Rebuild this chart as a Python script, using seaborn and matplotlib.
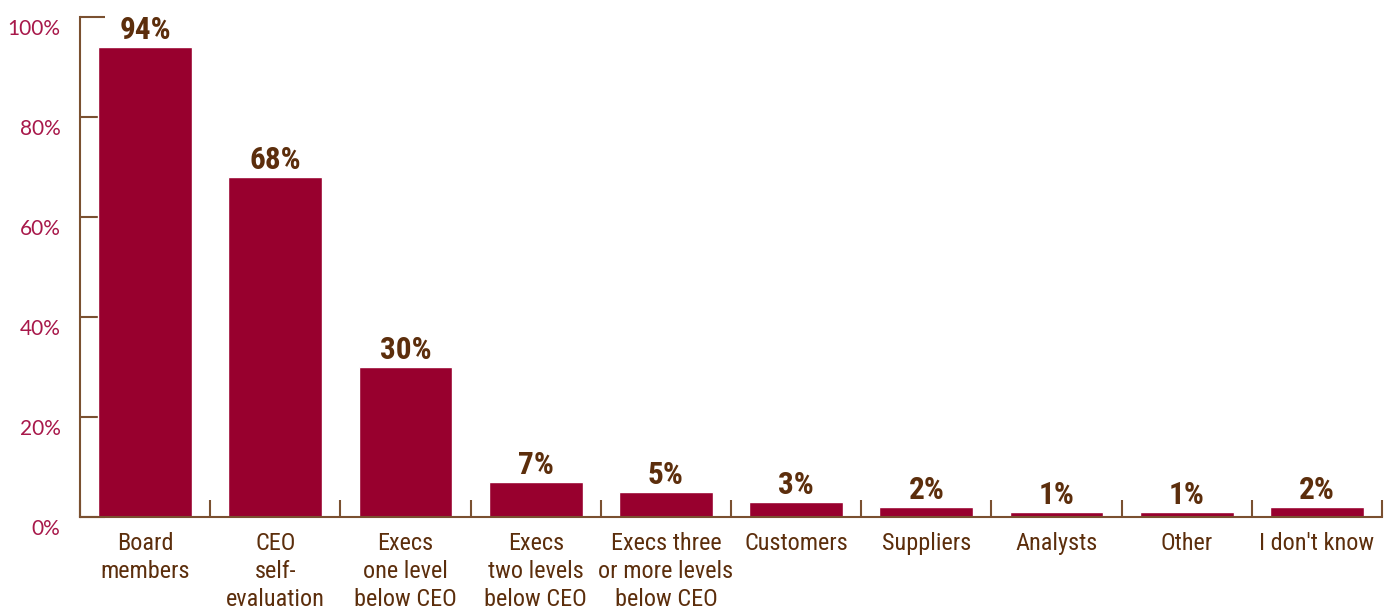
import matplotlib
matplotlib.use("Agg")
import matplotlib.pyplot as plt
import matplotlib.transforms as mtransforms
import seaborn as sns
import pandas as pd
from matplotlib.ticker import FixedLocator

categories = [
    "Board\nmembers",
    "CEO\nself-\nevaluation",
    "Execs\none level\nbelow CEO",
    "Execs\ntwo levels\nbelow CEO",
    "Execs three\nor more levels\nbelow CEO",
    "Customers",
    "Suppliers",
    "Analysts",
    "Other",
    "I don't know",
]
values = [94, 68, 30, 7, 5, 3, 2, 1, 1, 2]
y_ticks = [0, 20, 40, 60, 80, 100]

BAR = "#98002e"
BROWN = "#5c2e0c"
AXIS = "#7a5030"
TICKTXT = "#a8184a"

sns.set_theme(style="white")
plt.rcParams["font.family"] = ["Roboto Condensed", "DejaVu Sans"]

df = pd.DataFrame({"who": categories, "pct": values})

fig = plt.figure(figsize=(13.89, 6.11), dpi=100)
ax = fig.add_axes([0.0576, 0.1538, 0.9374, 0.8184])

sns.barplot(data=df, x="who", y="pct", color=BAR, saturation=1, width=0.72, ax=ax)

ax.set_xlim(-0.5, len(categories) - 0.5)
ax.set_ylim(0, 100)
ax.set_xlabel("")
ax.set_ylabel("")

for spine in ["top", "right"]:
    ax.spines[spine].set_visible(False)
for spine in ["left", "bottom"]:
    ax.spines[spine].set_color(AXIS)
    ax.spines[spine].set_linewidth(1.5)

# y axis: inward ticks with percent labels sitting just below each gridline
ax.set_yticks(y_ticks)
ax.set_yticklabels([f"{t}%" for t in y_ticks], fontsize=15, fontweight="normal",
                   color=TICKTXT, family=["Lato", "DejaVu Sans"])
ax.tick_params(axis="y", direction="in", length=18, width=1.5, color=AXIS,
               pad=14, left=True)
shift = mtransforms.ScaledTranslation(0, -10 / 100, fig.dpi_scale_trans)
for lab in ax.get_yticklabels():
    lab.set_transform(lab.get_transform() + shift)

# x axis: category labels centred, separators between categories
ax.set_xticks(range(len(categories)))
ax.set_xticklabels(categories, fontsize=17.5, color=BROWN, linespacing=1.28,
                   va="top")
ax.tick_params(axis="x", which="major", length=0, pad=11)
ax.xaxis.set_minor_locator(FixedLocator([i + 0.5 for i in range(-1, len(categories))]))
ax.tick_params(axis="x", which="minor", direction="in", length=12, width=1.5,
               color=AXIS, bottom=True)

for i, v in enumerate(values):
    ax.text(i, v + 1.6, f"{v}%", ha="center", va="baseline", fontsize=22.5,
            fontweight="bold", color=BROWN)

fig.savefig("out.png", dpi=100)
